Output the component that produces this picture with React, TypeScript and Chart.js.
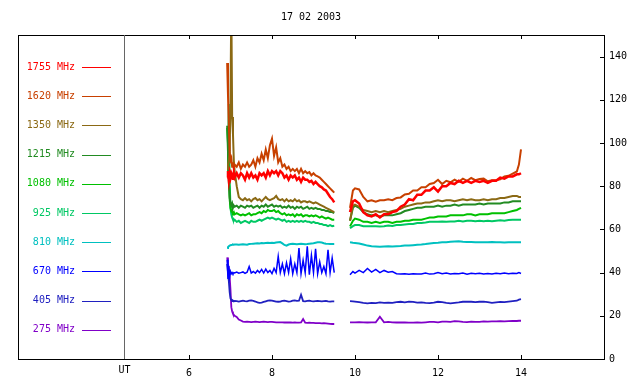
import React, { useEffect, useRef } from "react";
import { Chart, registerables } from "chart.js";

Chart.register(...registerables);

const FONT = "'DejaVu Sans Mono', 'Liberation Mono', monospace";
const TITLE = "17 02 2003";
const FREQ_LABELS = ["1755 MHz", "1620 MHz", "1350 MHz", "1215 MHz", "1080 MHz", "925 MHz", "810 MHz", "670 MHz", "405 MHz", "275 MHz"];
const COLORS = ["#ff0000", "#c84000", "#8b6914", "#228b22", "#00c000", "#00c864", "#00c0c0", "#0000ff", "#2020c0", "#8000c8"];
const LINE_WIDTHS = [2.5, 2, 2, 2, 2, 2, 2, 1.5, 1.8, 1.8];
const X_TICKS = [6, 8, 10, 12, 14];
const Y_TICKS = [0, 20, 40, 60, 80, 100, 120, 140];
const X_MIN = 1.88;
const X_MAX = 16;
const Y_MIN = 0;
const Y_MAX = 150;
const UT_POS = 4.43;
const UT_LABEL = "UT";
const GAP_T = 9.7;

// time grids (hours UT)
const T1 = [6.92, 6.94, 6.96, 6.98, 7.0, 7.02, 7.04, 7.06, 7.08, 7.1,
  7.15, 7.2, 7.25, 7.3, 7.35, 7.4, 7.45, 7.5, 7.55, 7.6,
  7.65, 7.7, 7.75, 7.8, 7.85, 7.9, 7.95, 8.0, 8.05, 8.1,
  8.15, 8.2, 8.25, 8.3, 8.35, 8.4, 8.45, 8.5, 8.55, 8.6,
  8.65, 8.7, 8.75, 8.8, 8.85, 8.9, 8.95, 9.0, 9.05, 9.1,
  9.15, 9.2, 9.25, 9.3, 9.35, 9.4, 9.45, 9.5];
const T2 = [9.88, 9.95, 10.0, 10.1, 10.2, 10.3, 10.4, 10.5, 10.6, 10.7,
  10.8, 10.9, 11.0, 11.1, 11.2, 11.3, 11.4, 11.5, 11.6, 11.7,
  11.8, 11.9, 12.0, 12.1, 12.2, 12.3, 12.4, 12.5, 12.6, 12.7,
  12.8, 12.9, 13.0, 13.1, 13.2, 13.3, 13.4, 13.5, 13.6, 13.7,
  13.8, 13.9, 13.95, 14.0];

// 1755 MHz
const F1755_A = [84, 87, 83, 86, 84, 86, 85, 83, 86, 84,
  86, 84, 86, 85, 83, 86, 84, 86, 84, 85,
  83, 86, 85, 86, 84, 87, 85, 87, 86, 87,
  85, 87, 86, 84, 85, 83, 85, 84, 85, 83,
  84, 82, 84, 83, 83, 82, 82.5, 81, 82, 81,
  80, 79.5, 78.5, 78, 76.5, 75, 74, 72.5];
const F1755_B = [68, 73, 73.5, 72, 68, 66.5, 66, 67, 65.5, 67,
  67, 68, 68.5, 70.5, 71.5, 74, 73.5, 76, 76, 78,
  78, 79.5, 77.5, 80, 80, 81.5, 81, 82.5, 81.5, 82.5,
  81.5, 82.5, 82, 82.5, 81.5, 82.5, 82.5, 84, 83.5, 84.5,
  84.5, 85.5, 85.5, 86];
// 1620 MHz
const F1620_A = [137, 122, 108, 96, 92, 93, 89, 91, 88, 90,
  89, 91, 88, 90, 89, 91, 89, 90, 92, 89,
  93, 91, 95, 92, 97, 93, 99, 102, 94, 98,
  91, 93, 89, 90, 88, 89, 87, 88, 87, 88,
  86, 88, 86, 87, 86, 86.5, 85, 86, 85, 84.5,
  84, 83, 82, 81, 80, 79, 78, 77];
const F1620_B = [70, 78, 79, 78.5, 75, 73, 73.5, 72.8, 73.5, 73.5,
  74, 73.5, 74.5, 74.8, 76.2, 76.5, 78, 78, 79.5, 79.5,
  81, 81.5, 83, 81, 82.5, 81.8, 83, 82, 83.5, 82.5,
  83.8, 82.8, 83.3, 83.5, 82.3, 82.8, 82.8, 83.2, 84.5, 84.8,
  85.8, 86.8, 90, 97];
// 1350 MHz
const F1350_A = [88, 90, 92, 96, 120, 165, 112, 104, 92, 87,
  80, 75, 74, 73.5, 74.5, 73.5, 74, 73, 74, 74.5,
  73.5, 74, 73, 74, 75, 74, 73.5, 74, 74.5, 75.5,
  74, 73.5, 74, 73, 74, 73, 73.5, 73, 74, 73,
  73.5, 72.5, 73, 73, 72.5, 73, 72.5, 72, 72.5, 72,
  71.5, 71, 70.5, 70, 69.5, 69, 68.5, 68];
const F1350_B = [64, 71, 71.5, 70.5, 69, 68.5, 68, 68.5, 68, 68.5,
  68, 68.5, 69, 69.5, 70.5, 71, 71.5, 72, 72, 72.5,
  72.5, 73, 73.5, 73, 73.5, 73.5, 73, 73.5, 74, 73.5,
  74, 73.5, 73.5, 74, 73.5, 74, 74, 74.5, 74.5, 75,
  75.5, 75.5, 75, 75];
// 1215 MHz
const F1215_A = [108, 96, 82, 75, 72, 71, 72, 70, 71, 70.5,
  71, 70, 71, 70.5, 70, 71, 70.5, 71, 70, 70.5,
  71, 70, 71, 70.5, 71.5, 70.5, 71, 71.5, 70.5, 71,
  70.5, 71, 70, 70.5, 70, 71, 70, 70.5, 69.5, 70.5,
  70, 70.5, 69.5, 70, 70.5, 69.5, 70, 69.5, 70, 69.5,
  69.5, 69, 69, 68.5, 68.5, 68, 68, 67.5];
const F1215_B = [64, 70, 71, 70, 68, 67, 66.5, 66.5, 66, 66.5,
  66.5, 66.5, 67, 67.5, 68.5, 69, 69.5, 70, 70, 70.5,
  70.5, 70.5, 71, 70.5, 71, 71, 71.5, 71, 71.5, 71.5,
  71.5, 71.5, 72, 71.5, 72, 72, 72, 72, 72.5, 72.5,
  73, 73, 73, 73];
// 1080 MHz
const F1080_A = [107, 100, 86, 74, 70, 68.5, 68, 67.5, 68, 67,
  67.5, 67, 66.5, 67, 66.5, 67, 67.5, 66.5, 67, 67,
  67.5, 68, 67.5, 68.5, 68, 69, 68.5, 68.5, 69, 68,
  68.5, 67.5, 67, 67.5, 66.5, 67, 66.5, 67, 66, 67,
  66.5, 67, 66, 66.5, 66.5, 66, 66.5, 66, 66.5, 66,
  65.5, 66, 65.5, 65, 65.5, 65, 64.5, 64.5];
const F1080_B = [61.4, 64, 65, 64.5, 63.5, 63.5, 63, 63.5, 63, 63.5,
  63.5, 63, 63.5, 63.5, 64, 64, 64.5, 64.5, 64.5, 65,
  65.5, 65.5, 66, 66, 66, 66.5, 66.5, 66.5, 66.5, 67,
  67, 66.5, 67, 67, 67, 67.5, 67.5, 67.5, 67.5, 68,
  68.5, 69, 69.5, 70];
// 925 MHz
const F925_A = [85, 95, 118, 82, 70, 67, 65.5, 64.5, 64, 64.5,
  63.5, 64, 63, 63.5, 64, 63.5, 63, 64, 63.5, 63.5,
  64, 64.5, 64, 64.5, 65, 65.5, 65, 65.5, 65, 64.5,
  65, 64.5, 64, 64.5, 63.5, 64, 63.5, 64, 63.5, 64,
  63.5, 64, 63.5, 64, 63.5, 63.5, 63, 63.5, 63, 63,
  62.5, 62.5, 62, 62, 61.5, 62, 61.5, 61.7];
const F925_B = [60.5, 61.5, 62, 62, 61.5, 61.5, 61.5, 61.5, 61.4, 61.5,
  61.8, 61.6, 62, 62, 62.3, 62.5, 62.5, 63, 63, 63.2,
  63.5, 63.5, 63.5, 63.7, 63.5, 63.7, 63.7, 64, 63.7, 64,
  64, 63.8, 64, 63.8, 64, 63.8, 64, 64.2, 64, 64.3,
  64.5, 64.5, 64.5, 64.5];
// 810 MHz
const F810_A = [51.4, 51.8, 52.2, 52.5, 52.7, 52.8, 52.9, 53, 52.9, 53,
  53, 52.9, 53, 53.1, 53, 52.9, 53.2, 53.3, 53.4, 53.5,
  53.6, 53.5, 53.7, 53.6, 53.7, 53.8, 53.7, 53.8, 53.7, 53.9,
  54, 54.1, 53.5, 52.8, 52.5, 53, 53.2, 53.3, 53.2, 53.1,
  53.2, 53.3, 53.2, 53.1, 53.2, 53.4, 53.5, 53.6, 53.8, 54,
  54, 53.9, 53.6, 53.4, 53.3, 53.2, 53.2, 53.2];
const F810_B = [54, 53.8, 53.7, 53.5, 53, 52.5, 52.2, 52.1, 52, 52.1,
  52.2, 52.1, 52.2, 52.3, 52.5, 52.5, 52.7, 52.9, 53, 53.2,
  53.5, 53.7, 53.8, 54, 54, 54.3, 54.4, 54.5, 54.3, 54.2,
  54.2, 54, 54, 54.1, 54, 54.2, 54, 54, 53.9, 54,
  54, 54, 54, 54];
// 670 MHz
const F670_A = [46, 37, 43, 38, 40.5, 39.5, 40, 39.5, 40, 39.8,
  40.2, 39.7, 40, 40.3, 39.6, 40.2, 42.8, 39.8, 40.5, 39.7,
  41, 40, 41.5, 39.8, 41.6, 40, 41, 39.5, 42, 40,
  47.5, 40, 44, 39.5, 44.5, 40, 46.4, 39.5, 44, 40,
  51.4, 39.5, 45.7, 40, 52.2, 39, 48, 40, 51, 39.5,
  45, 40, 42.8, 39.5, 50.6, 40, 46.7, 40];
const F670_B = [39, 40.5, 39.8, 41, 40, 41.9, 40.2, 41.5, 40, 41,
  40.2, 40.5, 39.5, 39.3, 39.5, 39.2, 39.5, 39.3, 39.4, 39.8,
  39.3, 39.5, 40, 39.5, 39.8, 39.4, 39.6, 39.5, 39.8, 39.3,
  39.7, 39.5, 39.7, 39.4, 39.6, 39.4, 39.7, 39.5, 39.8, 39.5,
  39.7, 39.6, 40, 39.6];
// 405 MHz
const F405_A = [44, 40, 36, 31, 28, 27.3, 26.8, 27, 26.7, 26.9,
  26.8, 26.6, 26.8, 27, 26.8, 26.7, 27, 27.1, 26.9, 26.6,
  26.2, 26, 26.1, 26.4, 26.7, 27, 27.1, 27, 26.8, 26.6,
  26.5, 26.6, 26.9, 27, 26.8, 26.6, 26.7, 27, 27.1, 26.9,
  27, 29.7, 26.8, 26.7, 26.9, 27, 26.8, 26.7, 26.8, 26.9,
  26.8, 26.7, 26.8, 26.9, 26.7, 26.6, 26.7, 26.7];
const F405_B = [26.8, 26.7, 26.6, 26.3, 26, 25.8, 26, 25.9, 26.2, 26,
  26.1, 26, 26.3, 26.5, 26.2, 26.6, 26.4, 26.1, 26.2, 26,
  25.9, 26.1, 26.5, 26.3, 26, 25.8, 26, 26.2, 26.5, 26.6,
  26.5, 26.3, 26.5, 26.6, 26.3, 26, 26.2, 26.4, 26.3, 26.6,
  26.8, 27, 27.5, 27.7];
// 275 MHz
const F275_A = [47, 44, 42, 38, 32, 24, 22, 21, 20.5, 20,
  19.5, 18.3, 17.8, 17.3, 17.2, 17.3, 17.2, 17.1, 17.2, 17.3,
  17.2, 17.1, 17.2, 17.3, 17.2, 17.1, 17.2, 17.2, 17.1, 17,
  17, 17, 17, 16.9, 17, 16.9, 16.9, 16.8, 16.9, 16.8,
  16.8, 16.9, 18.5, 16.8, 16.7, 16.8, 16.7, 16.7, 16.6, 16.6,
  16.6, 16.5, 16.6, 16.5, 16.4, 16.3, 16.2, 16.2];
const F275_B = [17, 17, 17, 17.1, 17, 16.9, 17, 17, 19.6, 17,
  17.2, 17, 16.9, 17, 16.9, 16.8, 16.8, 16.9, 16.8, 17,
  17.2, 17.2, 17, 17.3, 17.3, 17.2, 17.5, 17.4, 17.2, 17.1,
  17.3, 17.2, 17.2, 17.4, 17.3, 17.4, 17.4, 17.5, 17.4, 17.5,
  17.6, 17.6, 17.7, 17.7];

const SERIES_A = [F1755_A, F1620_A, F1350_A, F1215_A, F1080_A, F925_A, F810_A, F670_A, F405_A, F275_A];
const SERIES_B = [F1755_B, F1620_B, F1350_B, F1215_B, F1080_B, F925_B, F810_B, F670_B, F405_B, F275_B];

function buildData(a: number[], b: number[]) {
  return [
    ...T1.map((t, i) => ({ x: t, y: a[i] })),
    { x: GAP_T, y: null },
    ...T2.map((t, i) => ({ x: t, y: b[i] })),
  ];
}

const decorPlugin = {
  id: "decor",
  afterDraw(chart: any) {
    const { ctx, chartArea: a, scales } = chart;
    const xs = scales.x;
    const ys = scales.y;
    ctx.save();
    // frame
    ctx.strokeStyle = "#000";
    ctx.lineWidth = 1;
    ctx.strokeRect(a.left + 0.5, a.top + 0.5, a.right - a.left, a.bottom - a.top);
    // tick marks (inward)
    ctx.beginPath();
    X_TICKS.forEach((v) => {
      const px = Math.round(xs.getPixelForValue(v)) + 0.5;
      ctx.moveTo(px, a.bottom);
      ctx.lineTo(px, a.bottom - 4);
      ctx.moveTo(px, a.top);
      ctx.lineTo(px, a.top + 4);
    });
    Y_TICKS.forEach((v) => {
      if (v === Y_MIN) return;
      const py = Math.round(ys.getPixelForValue(v)) + 0.5;
      ctx.moveTo(a.right, py);
      ctx.lineTo(a.right - 4, py);
    });
    ctx.stroke();
    // UT separator
    const ux = Math.round(xs.getPixelForValue(UT_POS)) + 0.5;
    ctx.strokeStyle = "#666";
    ctx.beginPath();
    ctx.moveTo(ux, a.top);
    ctx.lineTo(ux, a.bottom);
    ctx.stroke();
    ctx.font = "10px " + FONT;
    ctx.fillStyle = "#000";
    ctx.textAlign = "center";
    ctx.textBaseline = "middle";
    ctx.fillText(UT_LABEL, ux, a.bottom + 11);
    // title
    ctx.fillText(TITLE, (a.left + a.right) / 2, 17);
    // legend
    for (let i = 0; i < FREQ_LABELS.length; i++) {
      const y = a.top + 32 + i * 29.2;
      const yy = Math.round(y) + 0.5;
      ctx.fillStyle = COLORS[i];
      ctx.textAlign = "right";
      ctx.fillText(FREQ_LABELS[i], a.left + 57, y);
      ctx.strokeStyle = COLORS[i];
      ctx.lineWidth = 1;
      ctx.beginPath();
      ctx.moveTo(a.left + 64, yy);
      ctx.lineTo(a.left + 93, yy);
      ctx.stroke();
    }
    ctx.restore();
  },
};

export default function App() {
  const ref = useRef<HTMLCanvasElement>(null);
  useEffect(() => {
    const canvas = ref.current;
    if (!canvas) return;
    const chart = new Chart(canvas, {
      type: "line",
      data: {
        datasets: FREQ_LABELS.map((lab, i) => ({
          label: lab,
          data: buildData(SERIES_A[i], SERIES_B[i]) as any,
          borderColor: COLORS[i],
          backgroundColor: COLORS[i],
          borderWidth: LINE_WIDTHS[i],
          pointRadius: 0,
          tension: 0,
          spanGaps: false,
        })),
      },
      options: {
        animation: false,
        responsive: false,
        layout: { padding: { left: 18, top: 35, right: 0, bottom: 0 } },
        plugins: {
          legend: { display: false },
          tooltip: { enabled: false },
          title: { display: false },
        },
        scales: {
          x: {
            type: "linear",
            position: "bottom",
            min: X_MIN,
            max: X_MAX,
            afterBuildTicks: (s: any) => {
              s.ticks = X_TICKS.map((v) => ({ value: v }));
            },
            afterFit: (s: any) => {
              s.height = 25;
            },
            grid: { display: false, drawTicks: false },
            border: { display: false },
            ticks: { font: { family: FONT, size: 10 }, color: "#000", padding: 8, maxRotation: 0, autoSkip: false },
          },
          y: {
            type: "linear",
            position: "right",
            min: Y_MIN,
            max: Y_MAX,
            afterBuildTicks: (s: any) => {
              s.ticks = Y_TICKS.map((v) => ({ value: v }));
            },
            afterFit: (s: any) => {
              s.width = 36;
            },
            grid: { display: false, drawTicks: false },
            border: { display: false },
            ticks: { font: { family: FONT, size: 10 }, color: "#000", padding: 5, autoSkip: false },
          },
        },
      },
      plugins: [decorPlugin],
    });
    return () => chart.destroy();
  }, []);
  return (
    <canvas
      ref={ref}
      width={640}
      height={384}
      style={{ position: "fixed", left: 0, top: 0, width: 640, height: 384, background: "#fff" }}
    />
  );
}
